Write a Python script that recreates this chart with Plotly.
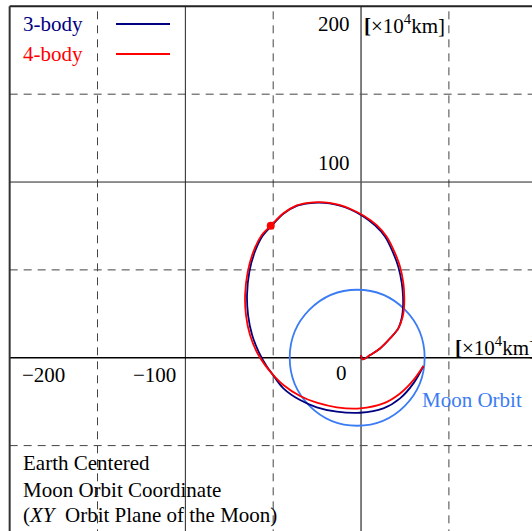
import plotly.graph_objects as go

# ---------------- data (units: 10^4 km) ----------------
body3_x = [0.0, 1.0, 5.1, 10.8, 16.5, 21.2, 23.3, 23.9, 23.9, 23.2, 21.2, 18.4, 13.7, 8.1, 0.9,
           -6.3, -12.0, -18.0, -24.0, -30.0, -36.6, -44.2, -51.2, -56.1, -60.6, -63.6, -64.9, -64.3,
           -62.0, -58.2, -53.8, -50.1, -44.2, -34.7, -25.2, -13.8, -0.6, 12.7, 22.2, 29.8, 35.5]
body3_y = [1.5, -0.9, 1.5, 5.3, 11.0, 16.7, 23.3, 29.0, 34.7, 42.3, 51.8, 59.4, 68.9, 75.2, 80.7,
           84.5, 86.6, 87.9, 88.3, 87.9, 86.4, 82.0, 74.8, 69.3, 59.9, 48.8, 35.7, 24.3,
           12.9, 3.2, -4.7, -9.8, -17.4, -24.1, -28.2, -30.7, -31.3, -28.8, -23.1, -14.6, -4.7]

body4_x = [0.0, 1.0, 5.1, 10.8, 16.5, 21.2, 23.7, 24.5, 24.6, 24.1, 22.2, 19.4, 14.6, 8.9, 1.3,
           -6.3, -12.0, -18.0, -24.0, -30.0, -36.6, -44.2, -51.4, -56.5, -61.3, -64.5, -66.0, -65.5,
           -63.2, -59.4, -54.6, -50.8, -44.2, -34.7, -25.2, -13.8, -0.6, 12.7, 22.2, 29.8, 35.5]
body4_y = [1.5, -0.9, 1.5, 5.3, 11.0, 16.7, 23.3, 29.0, 34.7, 42.3, 51.8, 59.4, 68.9, 75.5, 81.0,
           84.8, 86.9, 88.2, 88.6, 88.2, 86.7, 82.2, 75.1, 69.8, 60.3, 48.9, 35.7, 24.3,
           12.9, 3.4, -4.2, -8.9, -15.5, -21.8, -25.6, -28.2, -28.8, -26.0, -20.3, -12.7, -4.7]

marker_x = [-51.4]
marker_y = [75.1]

# Moon orbit (ellipse bounds: apogee side / perigee side)
moon_x0, moon_x1 = -40.6, 36.2
moon_y0, moon_y1 = -38.7, 38.7

dashed_x = [-150, -50, 50]
dashed_y = [150, 50, -50]
solid_x = [-100]
solid_y = [100]

xtick_vals = [-200, -100, 0, 100]
xtick_text = ["\u2212200", "\u2212100", "0", "100"]
ytick_vals = [200, 100, -100]
ytick_text = ["200", "100", "\u2212100"]

# ---------------- layout ----------------
W, H = 532, 531
XR = [-205.5, 97.3]
YR = [-98.6, 203.6]
FONT = "Liberation Serif"
FS = 21
NAVY = "#000080"
RED = "#ff0000"
BLUE = "#3b7cf4"


def px2x(px):
    return XR[0] + (XR[1] - XR[0]) * px / W


def py2y(py):
    return YR[1] - (YR[1] - YR[0]) * py / H


fig = go.Figure()

shapes = []
for v in dashed_x:
    shapes.append(dict(type="line", xref="x", yref="y", x0=v, x1=v, y0=-150, y1=200,
                       line=dict(color="#444444", width=1, dash="8px,6px"), layer="below"))
for v in dashed_y:
    shapes.append(dict(type="line", xref="x", yref="y", x0=-200, x1=150, y0=v, y1=v,
                       line=dict(color="#444444", width=1, dash="8px,6px"), layer="below"))
for v in solid_x:
    shapes.append(dict(type="line", xref="x", yref="y", x0=v, x1=v, y0=-150, y1=200,
                       line=dict(color="#222222", width=1), layer="below"))
for v in solid_y:
    shapes.append(dict(type="line", xref="x", yref="y", x0=-200, x1=150, y0=v, y1=v,
                       line=dict(color="#222222", width=1), layer="below"))
# axes
shapes.append(dict(type="line", xref="x", yref="y", x0=0, x1=0, y0=-150, y1=200,
                   line=dict(color="#555555", width=1.5), layer="below"))
shapes.append(dict(type="line", xref="x", yref="y", x0=-200, x1=150, y0=0, y1=0,
                   line=dict(color="#000000", width=1.5), layer="below"))
# frame
shapes.append(dict(type="line", xref="x", yref="y", x0=-200, x1=150, y0=200, y1=200,
                   line=dict(color="#222222", width=2), layer="below"))
shapes.append(dict(type="line", xref="x", yref="y", x0=-200, x1=-200, y0=-150, y1=200,
                   line=dict(color="#333333", width=2), layer="below"))
# moon orbit
shapes.append(dict(type="circle", xref="x", yref="y", x0=moon_x0, x1=moon_x1, y0=moon_y0, y1=moon_y1,
                   line=dict(color=BLUE, width=1.8), layer="below"))
# legend line samples
shapes.append(dict(type="line", xref="x", yref="y", x0=px2x(116), x1=px2x(170), y0=py2y(24), y1=py2y(24),
                   line=dict(color=NAVY, width=2)))
shapes.append(dict(type="line", xref="x", yref="y", x0=px2x(116), x1=px2x(170), y0=py2y(54), y1=py2y(54),
                   line=dict(color=RED, width=2)))

fig.add_trace(go.Scatter(x=body3_x, y=body3_y, mode="lines", name="3-body",
                         line=dict(color=NAVY, width=1.8, shape="spline", smoothing=1.0)))
fig.add_trace(go.Scatter(x=body4_x, y=body4_y, mode="lines", name="4-body",
                         line=dict(color=RED, width=1.8, shape="spline", smoothing=1.0)))
fig.add_trace(go.Scatter(x=marker_x, y=marker_y, mode="markers",
                         marker=dict(color=RED, size=8, symbol="circle")))

ann = []
font = dict(family=FONT, size=FS, color="#000000")
# x tick labels
xshift_map = {-200: 10, -100: -7, 0: -12, 100: -4}
for v, t in zip(xtick_vals, xtick_text):
    ann.append(dict(x=v, y=0, xref="x", yref="y", text=t, showarrow=False, font=font,
                    xanchor="left" if v == -200 else "right", yanchor="middle",
                    xshift=xshift_map[v], yshift=-15 if v == 0 else -17))
# y tick labels
yshift_map = {200: -18, 100: 19, -100: 21}
for v, t in zip(ytick_vals, ytick_text):
    ann.append(dict(x=0, y=v, xref="x", yref="y", text=t, showarrow=False, font=font,
                    xanchor="right", yanchor="middle", xshift=-9, yshift=yshift_map[v]))

unit = "<b>[</b>\u00d710<sup>4</sup>km]"
ann.append(dict(x=px2x(362), y=py2y(24), xref="x", yref="y", text=unit, showarrow=False,
                font=font, xanchor="left", yanchor="middle"))
ann.append(dict(x=px2x(453), y=py2y(346), xref="x", yref="y", text=unit, showarrow=False,
                font=font, xanchor="left", yanchor="middle"))
# legend texts
ann.append(dict(x=px2x(21), y=py2y(24), xref="x", yref="y", text="3-body", showarrow=False,
                font=dict(family=FONT, size=FS, color=NAVY), xanchor="left", yanchor="middle"))
ann.append(dict(x=px2x(21), y=py2y(54), xref="x", yref="y", text="4-body", showarrow=False,
                font=dict(family=FONT, size=FS, color=RED), xanchor="left", yanchor="middle"))
# moon orbit label
ann.append(dict(x=px2x(420), y=py2y(400), xref="x", yref="y", text="Moon Orbit", showarrow=False,
                font=dict(family=FONT, size=FS, color=BLUE), xanchor="left", yanchor="middle"))
# bottom-left description
for txt, py in [("Earth Centered", 463), ("Moon Orbit Coordinate", 490),
                ("(<i>XY</i>  Orbit Plane of the Moon)", 515)]:
    ann.append(dict(x=px2x(21), y=py2y(py), xref="x", yref="y", text=txt, showarrow=False,
                    font=font, xanchor="left", yanchor="middle"))

fig.update_layout(
    width=W, height=H, margin=dict(l=0, r=0, t=0, b=0),
    paper_bgcolor="white", plot_bgcolor="white", showlegend=False,
    xaxis=dict(range=XR, visible=False, fixedrange=True),
    yaxis=dict(range=YR, visible=False, fixedrange=True),
    shapes=shapes, annotations=ann,
)

fig.write_html("out.html", config={"displayModeBar": False},
               post_script="document.body.style.margin='0';document.body.style.overflow='hidden';")
